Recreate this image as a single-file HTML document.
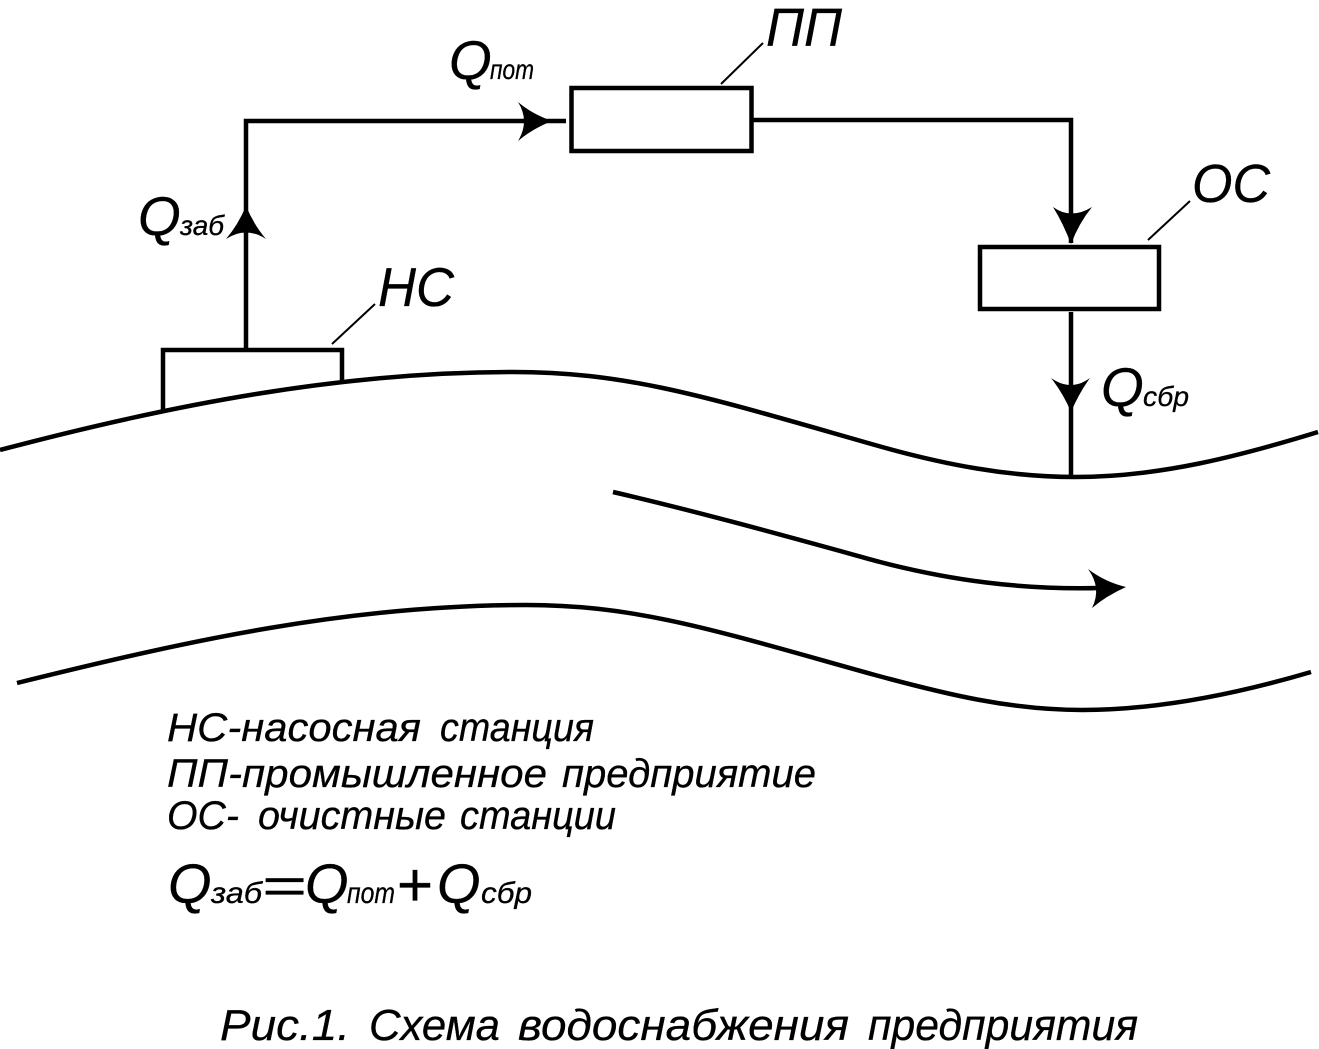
<!DOCTYPE html>
<html>
<head>
<meta charset="utf-8">
<style>
html,body{margin:0;padding:0;background:#fff;}
svg{display:block;}
text{font-family:"Liberation Sans","DejaVu Sans",sans-serif;font-style:italic;fill:#000;stroke:#000;stroke-width:.3px;}
</style>
</head>
<body>
<svg width="1319" height="1049" viewBox="0 0 1319 1049" xmlns="http://www.w3.org/2000/svg">
<g fill="none" stroke="#000" stroke-width="4.5">
<path d="M0 450 C170 405 340 372 513 372 C630 372 710 398 875 445 C945 465 1010 477 1075 477 C1160 477 1240 456 1318 432"/>
<path d="M17 683 C190 640 350 605 526 605 C640 605 720 632 875 675 C945 694 1010 710 1082 710 C1160 710 1240 693 1311 672"/>
<path d="M613 492 C700 512 800 540 880 562 C950 580 1020 590 1100 588"/>
<path d="M163 412 V350 H342 V384"/>
<rect x="571.5" y="88" width="180" height="63"/>
<rect x="980" y="247" width="179" height="62"/>
<path d="M246 350 V121 H566"/>
<path d="M751 120 H1071 V243"/>
<path d="M1071 312 V477"/>
</g>
<g fill="none" stroke="#000" stroke-width="2">
<path d="M332 344 L375 304"/>
<path d="M721 84 L763 43"/>
<path d="M1148 240 L1190 201"/>
</g>
<g fill="#000">
<path d="M552 121 Q532 114 518 102 Q530 121 518 141 Q532 129 552 121 Z"/>
<path d="M246 206 Q238 225 226 239 Q246 226 266 239 Q254 225 246 206 Z"/>
<path d="M1071 244 Q1063 223 1053 207 Q1071 220 1092 207 Q1079 223 1071 244 Z"/>
<path d="M1071 412 Q1063 393 1051 378 Q1071 392 1090 378 Q1079 393 1071 412 Z"/>
<path d="M1126 587 Q1105 582 1088 569 Q1102 588 1092 608 Q1106 596 1126 587 Z"/>
</g>
<text x="378" y="306" font-size="55" textLength="76" lengthAdjust="spacingAndGlyphs">НС</text>
<text x="766" y="46" font-size="54" textLength="76" lengthAdjust="spacingAndGlyphs">ПП</text>
<text x="1192" y="202" font-size="54" textLength="78" lengthAdjust="spacingAndGlyphs">ОС</text>
<text x="449" y="79" font-size="55">Q</text>
<text x="490" y="79" font-size="28" textLength="44" lengthAdjust="spacingAndGlyphs">пот</text>
<text x="138" y="235" font-size="55">Q</text>
<text x="180" y="235" font-size="28" textLength="44" lengthAdjust="spacingAndGlyphs">заб</text>
<text x="1101" y="406" font-size="55">Q</text>
<text x="1143" y="406" font-size="28" textLength="46" lengthAdjust="spacingAndGlyphs">сбр</text>

<text x="167" y="741" font-size="39.5" textLength="254" lengthAdjust="spacingAndGlyphs">НС-насосная</text>
<text x="440" y="741" font-size="39.5" textLength="154" lengthAdjust="spacingAndGlyphs">станция</text>
<text x="167" y="787" font-size="39.5" textLength="380" lengthAdjust="spacingAndGlyphs">ПП-промышленное</text>
<text x="562" y="787" font-size="39.5" textLength="254" lengthAdjust="spacingAndGlyphs">предприятие</text>
<text x="167" y="829" font-size="39.5" textLength="72" lengthAdjust="spacingAndGlyphs">ОС-</text>
<text x="258" y="829" font-size="39.5" textLength="188" lengthAdjust="spacingAndGlyphs">очистные</text>
<text x="460" y="829" font-size="39.5" textLength="156" lengthAdjust="spacingAndGlyphs">станции</text>

<text x="168" y="903" font-size="56">Q</text>
<text x="211" y="903" font-size="30" textLength="51" lengthAdjust="spacingAndGlyphs">заб</text>
<text x="261" y="903" font-size="50" textLength="45" lengthAdjust="spacingAndGlyphs">=</text>
<text x="305" y="903" font-size="56">Q</text>
<text x="347" y="903" font-size="30" textLength="48" lengthAdjust="spacingAndGlyphs">пот</text>
<text x="396" y="906" font-size="62">+</text>
<text x="437" y="903" font-size="56">Q</text>
<text x="481" y="903" font-size="30" textLength="51" lengthAdjust="spacingAndGlyphs">сбр</text>

<text x="220" y="1040" font-size="44" textLength="130" lengthAdjust="spacingAndGlyphs">Рис.1.</text>
<text x="369" y="1040" font-size="44" textLength="131" lengthAdjust="spacingAndGlyphs">Схема</text>
<text x="518" y="1040" font-size="44" textLength="331" lengthAdjust="spacingAndGlyphs">водоснабжения</text>
<text x="868" y="1040" font-size="44" textLength="270" lengthAdjust="spacingAndGlyphs">предприятия</text>
</svg>
</body>
</html>
